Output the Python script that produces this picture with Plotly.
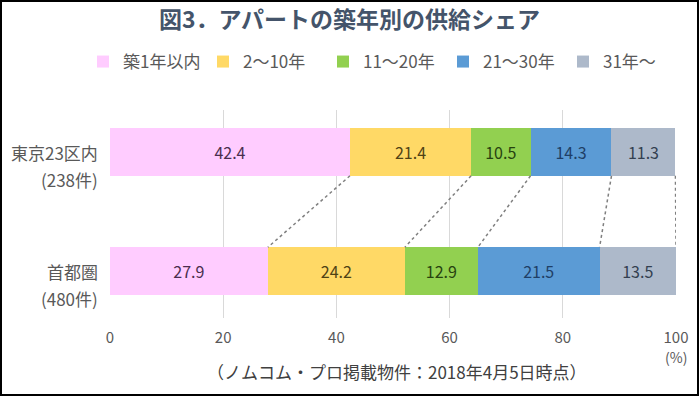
import plotly.graph_objects as go

# ---- data ----
categories = ["東京23区内", "首都圏"]
counts = ["(238件)", "(480件)"]
series_names = ["築1年以内", "2〜10年", "11〜20年", "21〜30年", "31年〜"]
tokyo23 = [42.4, 21.4, 10.5, 14.3, 11.3]
shutoken = [27.9, 24.2, 12.9, 21.5, 13.5]
x_ticks = [0, 20, 40, 60, 80, 100]

# ---- style ----
bar_colors = ["#FFCCFF", "#FFD966", "#92D050", "#5B9BD5", "#ADB9CA"]
label_colors = ["#4A2E4E", "#4F4215", "#27420F", "#1F3F66", "#333F50"]
FONT = "Noto Sans CJK JP"
bar_width = 0.4
y_pos = [1, 0]  # top, bottom

fig = go.Figure()
for i, name in enumerate(series_names):
    vals = [tokyo23[i], shutoken[i]]
    fig.add_trace(go.Bar(
        x=vals, y=y_pos, orientation="h", name=name,
        width=bar_width,
        marker=dict(color=bar_colors[i], line=dict(width=0)),
        text=[f"{v:.1f}" for v in vals],
        textposition="inside", insidetextanchor="middle",
        textfont=dict(family=FONT, size=16, color=label_colors[i]),
        hoverinfo="skip",
    ))

# dotted connector lines between cumulative boundaries
cum_top, cum_bot = [], []
s1 = s2 = 0.0
for a, b in zip(tokyo23, shutoken):
    s1 += a
    s2 += b
    cum_top.append(s1)
    cum_bot.append(s2)
for ct, cb in zip(cum_top, cum_bot):
    fig.add_trace(go.Scatter(
        x=[ct, cb], y=[y_pos[0] - bar_width / 2, y_pos[1] + bar_width / 2],
        mode="lines", line=dict(color="#7F7F7F", width=1.5, dash="dot"),
        showlegend=False, hoverinfo="skip",
    ))

W, H = 699, 396
ml, mr, mt, mb = 110, 23, 110, 78
pw, ph = W - ml - mr, H - mt - mb

annotations = []
for yv, nm, ct in zip(y_pos, categories, counts):
    annotations.append(dict(x=-10 / pw, xref="paper", y=yv, yref="y", text=nm,
                            xanchor="right", yanchor="middle", showarrow=False,
                            font=dict(family=FONT, size=17, color="#595959")))
    annotations.append(dict(x=-10 / pw, xref="paper", y=yv, yref="y", text=ct,
                            xanchor="right", yanchor="middle", showarrow=False, yshift=-27,
                            font=dict(family=FONT, size=17, color="#595959")))
annotations.append(dict(x=100, xref="x", y=(318 - 357) / ph, yref="paper", text="(%)",
                        xanchor="center", yanchor="middle", showarrow=False,
                        font=dict(family=FONT, size=14, color="#595959")))
annotations.append(dict(x=(397 - ml) / pw, xref="paper", y=(318 - 371) / ph, yref="paper",
                        text="（ノムコム・プロ掲載物件：2018年4月5日時点）",
                        xanchor="center", yanchor="middle", showarrow=False,
                        font=dict(family=FONT, size=17, color="#404040")))

fig.update_layout(
    width=W, height=H,
    margin=dict(l=ml, r=mr, t=mt, b=mb),
    paper_bgcolor="white", plot_bgcolor="white",
    barmode="stack",
    title=dict(text="<b>図3．アパートの築年別の供給シェア</b>", x=0.5, xanchor="center",
               y=1 - 20 / H, yanchor="middle",
               font=dict(family=FONT, size=23, color="#44546A")),
    legend=dict(orientation="h", x=(83 - ml) / pw, xanchor="left",
                y=(318 - 62) / ph, yanchor="middle",
                entrywidth=75, itemwidth=30, traceorder="normal",
                font=dict(family=FONT, size=17, color="#595959"),
                bgcolor="rgba(0,0,0,0)"),
    xaxis=dict(range=[0, 100], tickvals=x_ticks, showgrid=True, gridcolor="#D9D9D9",
               gridwidth=1, zeroline=False, showline=False, ticks="",
               ticklabelstandoff=9,
               tickfont=dict(family=FONT, size=15, color="#595959")),
    yaxis=dict(range=[-0.395, 1.353], showticklabels=False, showgrid=False,
               zeroline=False, showline=False, ticks=""),
    annotations=annotations,
    shapes=[dict(type="rect", xref="paper", yref="paper",
                 x0=(1 - ml) / pw, x1=(W - 1 - ml) / pw,
                 y0=(318 - (H - 1)) / ph, y1=(318 - 1) / ph,
                 line=dict(color="black", width=2), fillcolor="rgba(0,0,0,0)",
                 layer="above")],
    showlegend=True,
)

fig.write_html("out.html", config={"displayModeBar": False},
               post_script="document.body.style.margin='0';")
